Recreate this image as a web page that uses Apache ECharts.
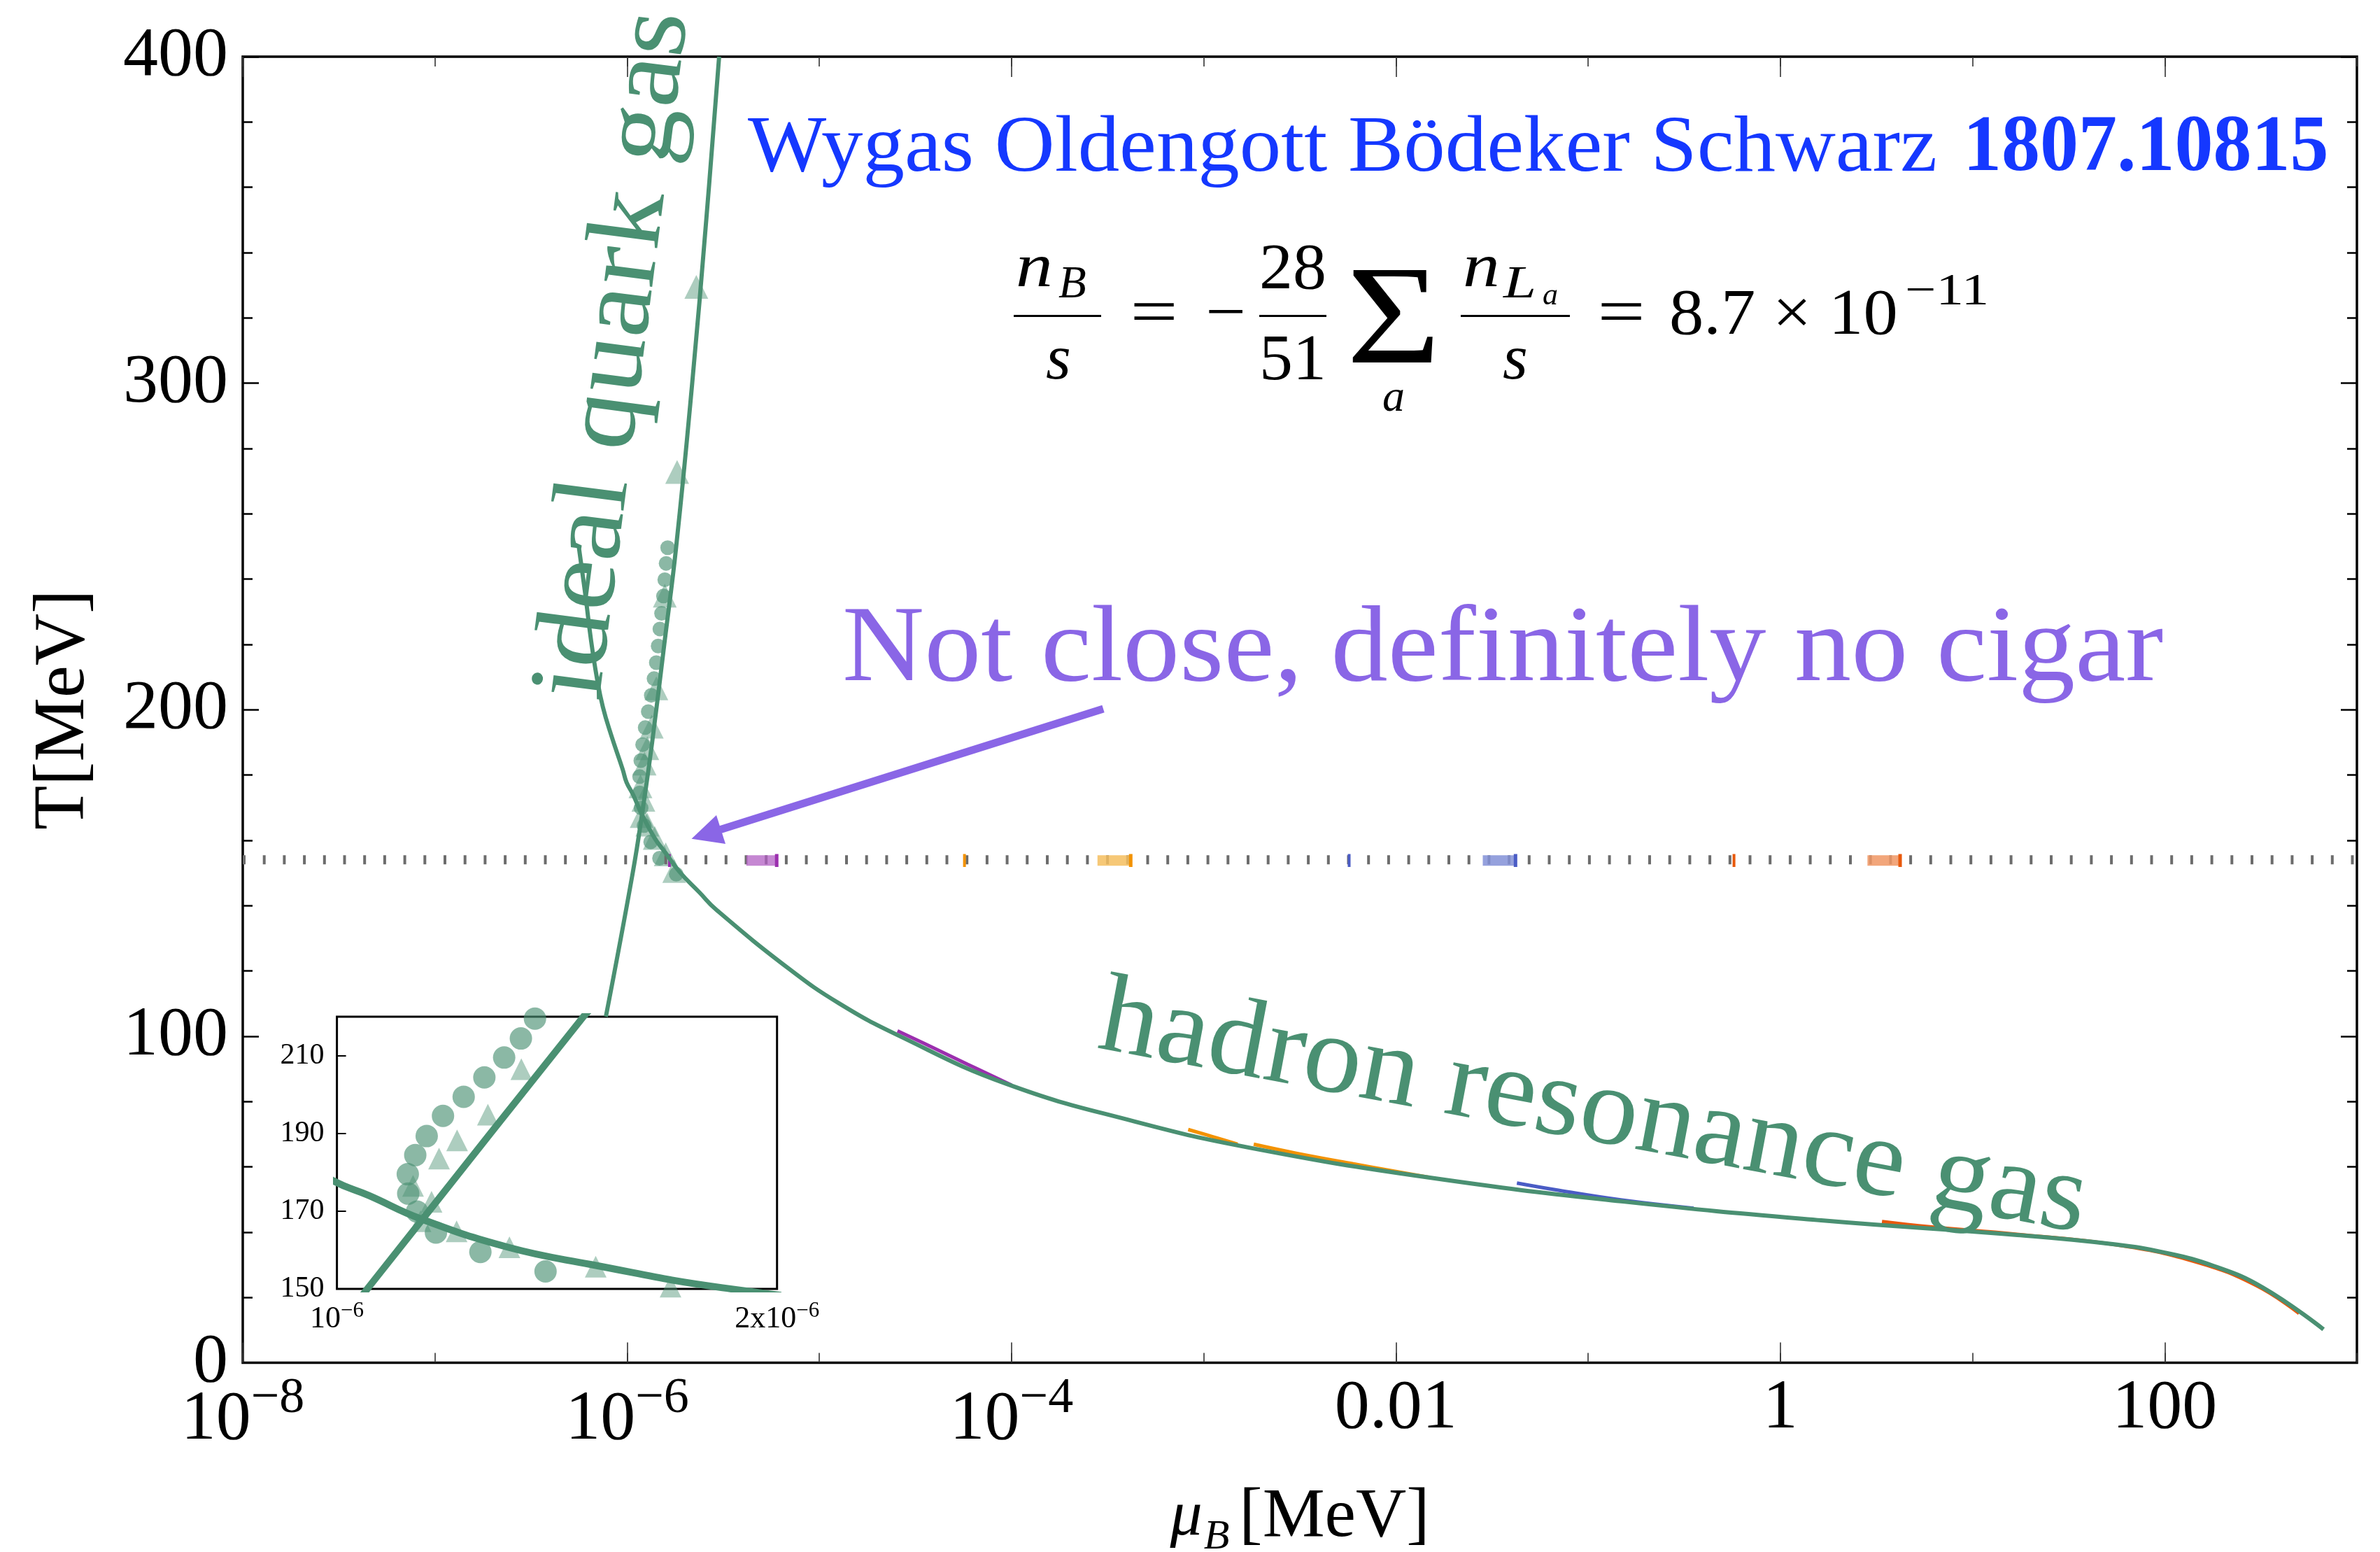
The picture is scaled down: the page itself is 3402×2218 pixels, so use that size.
<!DOCTYPE html>
<html>
<head>
<meta charset="utf-8">
<script src="https://cdn.jsdelivr.net/npm/echarts@6.0.0/dist/echarts.min.js"></script>
<style>
  html, body { margin: 0; padding: 0; background: #ffffff; }
  #chart { width: 3402px; height: 2218px; }
</style>
</head>
<body>
<div id="chart"></div>
<script>
// ---------------- data (mu_B and T in MeV) ----------------
// axis ticks / labels
const xTickValues  = [1e-8, 1e-7, 1e-6, 1e-5, 1e-4, 1e-3, 1e-2, 1e-1, 1, 10, 100, 1000];
const xLabelValues = [1e-8, 1e-6, 1e-4, 1e-2, 1, 100];
const xLabelBase   = ['10', '10', '10', '0.01', '1', '100'];
const xLabelSup    = ['\u22128', '\u22126', '\u22124', '', '', ''];
const insetXLabelValues = [1e-6, 2e-6];
const insetXLabelBase   = ['10', '2x10'];
const insetXLabelSup    = ['\u22126', '\u22126'];
const insetYTickValues  = [150, 170, 190, 210];

// ideal quark gas trajectory
const quarkMu = [0.775e-6, 1.069e-6, 1.209e-6, 1.349e-6, 1.56e-6, 1.80e-6, 2.18e-6, 2.58e-6, 3.01e-6];
const quarkT  = [106, 150, 170, 190, 220, 250, 300, 350, 400];

// hadron resonance gas trajectory
const hrgMu = [5.6e-7, 6.06e-7, 6.50e-7, 6.97e-7, 7.47e-7, 8.24e-7, 9.48e-7, 9.92e-7, 1.073e-6, 1.191e-6,
               1.389e-6, 1.576e-6, 1.876e-6, 2.38e-6, 2.9e-6, 7.0e-6, 1.27e-5, 2.58e-5, 9.4e-5, 4.35e-4,
               1.78e-3, 1.48e-2, 0.155, 1.63, 17.1, 55.6, 100, 180, 324, 670];
const hrgT  = [250, 235.2, 220.9, 209.5, 200.9, 192.4, 181.7, 177.8, 174.0, 168.0,
               160.7, 156.3, 150.3, 144.0, 138.8, 120.5, 110.0, 100.2, 85.4, 73.9,
               65.7, 56.7, 49.3, 43.6, 39.1, 36.2, 33.7, 29.6, 23.0, 10.2];

// lattice-type points near the crossover
const circleMu = [1.80e-6, 1.474e-6, 1.326e-6, 1.225e-6, 1.182e-6, 1.162e-6, 1.161e-6, 1.178e-6, 1.204e-6, 1.241e-6,
                  1.288e-6, 1.335e-6, 1.380e-6, 1.418e-6, 1.450e-6, 1.48e-6, 1.51e-6, 1.545e-6, 1.57e-6, 1.595e-6, 1.625e-6];
const circleT  = [149.6, 154.5, 159.5, 164.5, 169.9, 174.5, 179.5, 184.4, 189.3, 194.5,
                  199.4, 204.4, 209.5, 214.4, 219.5, 224.7, 229.5, 234.8, 239.8, 244.8, 249.6];
const triangleMu = [1.758e-6, 1.588e-6, 1.392e-6, 1.272e-6, 1.19e-6, 1.215e-6, 1.173e-6, 1.232e-6, 1.273e-6, 1.343e-6,
                    1.419e-6, 1.57e-6, 1.82e-6, 2.29e-6];
const triangleT  = [150.6, 155.7, 160.7, 164.8, 167.4, 172.4, 176.5, 183.5, 188.2, 194.8,
                    206.5, 234.9, 272.8, 329.5];

// flavour-asymmetry branches that peel off the hadron gas curve
const purpleMu = [2.55e-5, 3.5e-5, 5.9e-5, 1.0e-4];
const purpleT  = [101.6, 97.8, 91.4, 85.0];
const orangeAMu = [8.3e-4, 1.1e-3, 1.5e-3];
const orangeAT  = [71.4, 69.3, 66.9];
const orangeBMu = [1.82e-3, 3.0e-3, 6.0e-3, 1.48e-2];
const orangeBT  = [66.9, 64.2, 60.9, 56.8];
const blueMu = [0.0426, 0.07, 0.15, 0.354];
const blueT  = [55.0, 52.8, 49.8, 47.3];
const redMu = [3.38, 6, 17, 60, 150, 300, 500];
const redT  = [43.2, 41.6, 39.3, 35.8, 30.6, 23.6, 15.1];

// transition temperature and the short branch stubs sitting on it
const Tc = 154;
const stubLowT = 151.8, stubHighT = 155.8;
const stubThinMu  = [1.66e-6, 5.69e-5, 5.71e-3, 0.574];
const stubWedgeLo = [4.17e-6, 2.8e-4, 0.0283, 2.84];
const stubWedgeHi = [6.0e-6, 4.17e-4, 0.0419, 4.2];

// ---------------- styling ----------------
const SERIF = '"Liberation Serif", "Times New Roman", serif';
const GREEN = '#4a9072';
const stubColors = ['#9b2fae', '#f39200', '#4a5cc5', '#e8590c'];
const stubLight  = ['rgba(178,95,195,0.75)', 'rgba(245,190,95,0.85)', 'rgba(130,145,215,0.85)', 'rgba(240,150,100,0.85)'];
// distance from the canvas 'middle' line down to the alphabetic baseline, in em
const MID_TO_BASE = 0.263;

const pairs = (xs, ys) => xs.map((x, i) => [x, ys[i]]);
const findIdx = (vals, v) => vals.findIndex(u => Math.abs(Math.log10(u) - Math.log10(v)) < 1e-6);

function lineSeries(data, color, width, extra) {
  return Object.assign({
    type: 'line', data, symbol: 'none', smooth: 0.45, silent: true,
    lineStyle: { color, width, cap: 'butt' }, xAxisIndex: 0, yAxisIndex: 0
  }, extra || {});
}

const series = [];
// dotted T_c line
series.push(lineSeries([[1e-8, Tc], [1e3, Tc]], '#6c6c6c', 13, {
  smooth: false, lineStyle: { color: '#6c6c6c', width: 13, type: [4, 24.7], cap: 'butt' }
}));
// stubs on the T_c line
stubThinMu.forEach((m, i) => {
  series.push(lineSeries([[m, stubLowT], [m, stubHighT]], stubColors[i], 4, { smooth: false }));
  series.push(lineSeries([[stubWedgeLo[i], (stubLowT + stubHighT) / 2], [stubWedgeHi[i], (stubLowT + stubHighT) / 2]],
    stubLight[i], 15, { smooth: false }));
  series.push(lineSeries([[stubWedgeHi[i], stubLowT], [stubWedgeHi[i], stubHighT]], stubColors[i], 5, { smooth: false }));
});
// coloured branches
series.push(lineSeries(pairs(purpleMu, purpleT), stubColors[0], 5));
series.push(lineSeries(pairs(orangeAMu, orangeAT), stubColors[1], 5));
series.push(lineSeries(pairs(orangeBMu, orangeBT), stubColors[1], 5));
series.push(lineSeries(pairs(blueMu, blueT), stubColors[2], 5));
series.push(lineSeries(pairs(redMu, redT), stubColors[3], 5));
// points
series.push({ type: 'scatter', xAxisIndex: 0, yAxisIndex: 0, data: pairs(circleMu, circleT), symbol: 'circle',
  symbolSize: 21, itemStyle: { color: 'rgba(74,144,114,0.8)' }, silent: true });
series.push({ type: 'scatter', xAxisIndex: 0, yAxisIndex: 0, data: pairs(triangleMu, triangleT), symbol: 'triangle',
  symbolSize: 34, itemStyle: { color: 'rgba(74,144,114,0.57)' }, silent: true });
// main curves
series.push(lineSeries(pairs(hrgMu, hrgT), GREEN, 6));
series.push(lineSeries(pairs(quarkMu, quarkT), GREEN, 6));
// inset
series.push({ type: 'scatter', xAxisIndex: 4, yAxisIndex: 2, data: pairs(circleMu, circleT), symbol: 'circle',
  symbolSize: 32, itemStyle: { color: 'rgba(74,144,114,0.8)' }, silent: true, clip: true });
series.push({ type: 'scatter', xAxisIndex: 4, yAxisIndex: 2, data: pairs(triangleMu, triangleT), symbol: 'triangle',
  symbolSize: 31, itemStyle: { color: 'rgba(74,144,114,0.57)' }, silent: true, clip: true });
series.push(lineSeries(pairs(hrgMu, hrgT), GREEN, 10, { xAxisIndex: 4, yAxisIndex: 2, clip: true }));
series.push(lineSeries(pairs(quarkMu, quarkT), GREEN, 10, { xAxisIndex: 4, yAxisIndex: 2, clip: true, smooth: false }));

// ---------------- axes ----------------
function mainX(position, tickValues, tickLen, withLabels) {
  return {
    type: 'log', logBase: 10, gridIndex: 0, min: 1e-8, max: 1e3, position,
    axisLine: { show: false }, splitLine: { show: false },
    axisTick: { show: true, inside: true, length: tickLen, customValues: tickValues,
                lineStyle: { color: '#333', width: 1.6 } },
    axisLabel: withLabels ? {
      show: true, customValues: xLabelValues, margin: 16, color: '#000', fontFamily: SERIF,
      formatter: v => {
        const i = findIdx(xLabelValues, v);
        if (i < 0) return '';
        return xLabelSup[i] ? '{b|' + xLabelBase[i] + '}{s|' + xLabelSup[i] + '}' : '{p|' + xLabelBase[i] + '}';
      },
      rich: {
        b: { fontSize: 100, fontFamily: SERIF, color: '#000', verticalAlign: 'bottom' },
        s: { fontSize: 72, fontFamily: SERIF, color: '#000', verticalAlign: 'top', padding: [0, 0, 44, 0] },
        p: { fontSize: 100, fontFamily: SERIF, color: '#000' }
      }
    } : { show: false }
  };
}

function mainY(position, withLabels) {
  const ax = {
    type: 'value', gridIndex: 0, min: 0, max: 400, interval: 100, position,
    axisLine: { show: false }, splitLine: { show: false },
    axisTick: { show: true, inside: true, length: 23, lineStyle: { color: '#000', width: 2.5 } },
    minorTick: { show: true, splitNumber: 5, length: 14, lineStyle: { color: '#000', width: 2.5 } },
    axisLabel: withLabels ? { show: true, fontSize: 100, fontFamily: SERIF, color: '#000', margin: 21,
                              padding: [0, 0, 4, 0] } : { show: false }
  };
  if (withLabels) {
    Object.assign(ax, {
      name: 'T[MeV]', nameLocation: 'middle', nameRotate: 90, nameGap: 204,
      nameTextStyle: { fontSize: 103, fontFamily: SERIF, color: '#000' }
    });
  }
  return ax;
}

const xAxes = [
  mainX('bottom', xTickValues, 14, true),
  mainX('bottom', xLabelValues, 29, false),
  mainX('top', xTickValues, 14, false),
  mainX('top', xLabelValues, 29, false),
  {
    type: 'value', gridIndex: 1, min: 1e-6, max: 2e-6, position: 'bottom',
    axisLine: { show: false }, splitLine: { show: false }, axisTick: { show: false },
    axisLabel: {
      show: true, customValues: insetXLabelValues, margin: 16, color: '#000', fontFamily: SERIF,
      formatter: v => {
        const i = findIdx(insetXLabelValues, v);
        return i < 0 ? '' : '{b|' + insetXLabelBase[i] + '}{s|' + insetXLabelSup[i] + '}';
      },
      rich: {
        b: { fontSize: 44, fontFamily: SERIF, color: '#000', verticalAlign: 'bottom' },
        s: { fontSize: 31, fontFamily: SERIF, color: '#000', verticalAlign: 'top', padding: [0, 0, 18, 0] }
      }
    }
  }
];
xAxes[0].name = '{mu|\u03bc}{sub|B}{u|[MeV]}';
xAxes[0].nameLocation = 'middle';
xAxes[0].nameGap = 162;
xAxes[0].nameTextStyle = {
  rich: {
    mu: { fontSize: 92, fontFamily: SERIF, fontStyle: 'italic', color: '#000' },
    sub: { fontSize: 60, fontFamily: SERIF, fontStyle: 'italic', color: '#000', verticalAlign: 'bottom',
           padding: [58, 14, 0, 2] },
    u: { fontSize: 100, fontFamily: SERIF, color: '#000' }
  }
};

const yAxes = [
  mainY('left', true),
  mainY('right', false),
  {
    type: 'value', gridIndex: 1, min: 150, max: 220, position: 'left',
    axisLine: { show: false }, splitLine: { show: false },
    axisTick: { show: true, inside: true, length: 13, customValues: insetYTickValues,
                lineStyle: { color: '#000', width: 2 } },
    axisLabel: { show: true, customValues: insetYTickValues, fontSize: 42, fontFamily: SERIF,
                 color: '#000', margin: 18 }
  }
];

// ---------------- annotations ----------------
function label(x, base, text, size, o) {
  o = o || {};
  return {
    type: 'text', x, y: base, rotation: o.rot || 0, scaleX: o.sx || 1, z: 100, silent: true,
    style: {
      text, x: 0, y: -MID_TO_BASE * size, fill: o.color || '#000',
      font: (o.italic ? 'italic ' : '') + (o.bold ? 'bold ' : '') + size + 'px ' + SERIF,
      align: o.align || 'left', verticalAlign: 'middle'
    }
  };
}
function bar(x1, x2, y) {
  return { type: 'line', z: 100, silent: true, shape: { x1, y1: y, x2, y2: y },
           style: { stroke: '#000', lineWidth: 3 } };
}

const BLUE = '#1538ff';
const VIOLET = '#8a66e6';
const graphics = [
  // reference line
  label(1069, 244, 'Wygas Oldengott B\u00f6deker Schwarz', 114, { color: BLUE, sx: 1.043 }),
  label(2806, 244, '1807.10815', 114, { color: BLUE, bold: true, sx: 0.965 }),
  // n_B/s = -28/51 sum_a n_La/s = 8.7 x 10^-11
  label(1452, 409.5, 'n', 88, { italic: true, sx: 1.2 }),
  label(1513, 425, 'B', 65, { italic: true }),
  bar(1449, 1574, 451.5),
  label(1513, 541.5, 's', 92, { italic: true, align: 'center' }),
  label(1649.5, 476.5, '=', 93, { align: 'center', sx: 1.3 }),
  label(1752, 476.5, '\u2212', 93, { align: 'center', sx: 1.1 }),
  label(1848, 411.7, '28', 93, { align: 'center', sx: 1.03 }),
  bar(1800, 1896, 451.5),
  label(1848, 541.7, '51', 93, { align: 'center', sx: 1.03 }),
  label(1992, 518.3, '\u03a3', 201, { align: 'center', sx: 1.15 }),
  label(1992, 586.7, 'a', 64, { italic: true, align: 'center' }),
  label(2091, 409.5, 'n', 88, { italic: true, sx: 1.2 }),
  label(2149, 425, 'L', 65, { italic: true, sx: 1.3 }),
  label(2205, 435, 'a', 44, { italic: true }),
  bar(2088, 2244, 451.5),
  label(2166, 541.5, 's', 92, { italic: true, align: 'center' }),
  label(2317.5, 476.5, '=', 93, { align: 'center', sx: 1.3 }),
  label(2386, 476.7, '8.7 \u00d7 10', 93, { sx: 1.06 }),
  label(2723, 435, '\u221211', 64, { sx: 1.23 }),
  // comment and arrow
  label(1204, 972, 'Not close, definitely no cigar', 155, { color: VIOLET, sx: 1.047 }),
  { type: 'line', z: 100, silent: true, shape: { x1: 1577, y1: 1013, x2: 1030, y2: 1185.5 },
    style: { stroke: VIOLET, lineWidth: 11 } },
  { type: 'polygon', z: 100, silent: true,
    shape: { points: [[988.5, 1198.7], [1024, 1165], [1037, 1206]] }, style: { fill: VIOLET } },
  // curve names
  label(856, 1003, 'ideal quark gas', 150, { color: GREEN, rot: 1.443, sx: 1.09 }),
  label(1566, 1497, 'hadron resonance gas', 160, { color: GREEN, rot: -0.1855, sx: 1.04 })
];

const chart = echarts.init(document.getElementById('chart'), null, { renderer: 'canvas' });
chart.setOption({
  animation: false,
  backgroundColor: '#ffffff',
  grid: [
    { left: 347, right: 33, top: 81, bottom: 270.6, show: true, borderColor: '#000', borderWidth: 3.5,
      backgroundColor: 'transparent', containLabel: false, outerBoundsMode: 'none' },
    { left: 481.6, right: 2291.3, top: 1453, bottom: 376, show: true, borderColor: '#000', borderWidth: 3,
      backgroundColor: '#ffffff', containLabel: false, outerBoundsMode: 'none' }
  ],
  xAxis: xAxes,
  yAxis: yAxes,
  series,
  graphic: graphics
});
</script>
</body>
</html>
